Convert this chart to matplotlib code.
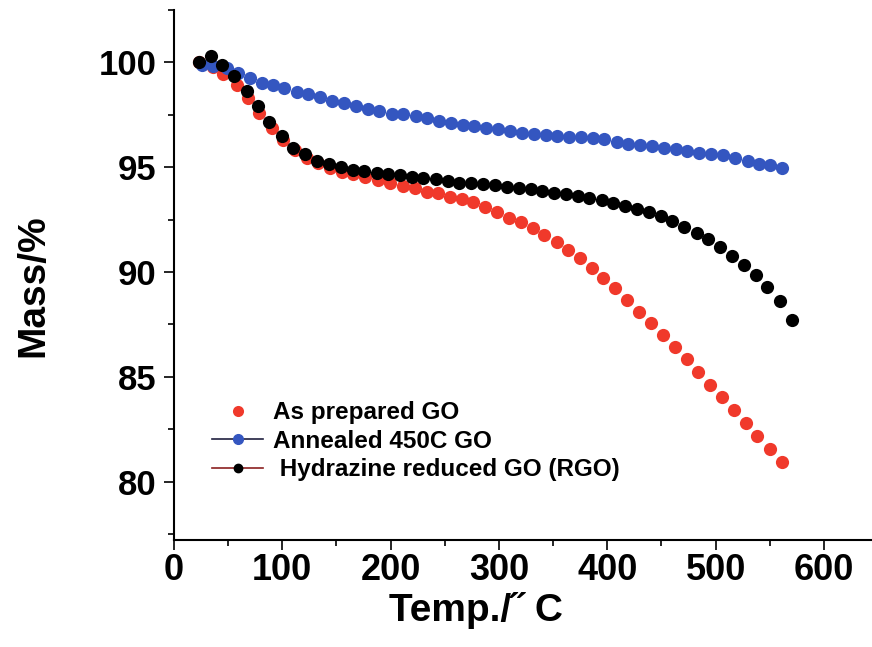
import matplotlib
matplotlib.use('Agg')
import matplotlib.pyplot as plt
from matplotlib.lines import Line2D
from matplotlib.ticker import MultipleLocator

plt.rcParams['font.family'] = ['Liberation Sans', 'DejaVu Sans']
plt.rcParams['font.weight'] = 'bold'

# As prepared GO
temp_go = [23.1, 36.0, 45.2, 58.2, 68.3, 78.5, 90.5, 100.6, 111.7, 122.8,
           132.9, 144.0, 155.1, 165.2, 176.3, 188.3, 199.4, 211.4, 222.5, 233.5,
           243.7, 254.8, 265.8, 276.0, 287.1, 298.2, 309.2, 320.3, 331.4, 341.5,
           353.5, 363.7, 374.8, 385.8, 396.0, 407.1, 418.2, 429.2, 440.3, 451.4,
           462.5, 473.6, 483.7, 494.8, 505.9, 516.9, 528.0, 538.2, 550.2, 561.2]
mass_go = [100.0, 99.76, 99.43, 98.9, 98.28, 97.57, 96.85, 96.28, 95.8, 95.42,
           95.18, 94.94, 94.75, 94.66, 94.51, 94.37, 94.23, 94.08, 93.99, 93.8,
           93.75, 93.56, 93.46, 93.32, 93.08, 92.84, 92.6, 92.37, 92.08, 91.75,
           91.41, 91.03, 90.65, 90.17, 89.69, 89.22, 88.64, 88.07, 87.55, 86.97,
           86.4, 85.83, 85.21, 84.59, 84.02, 83.4, 82.78, 82.16, 81.54, 80.92]

# Annealed 450C GO
temp_ann = [25.8, 36.0, 48.9, 59.1, 70.2, 81.2, 91.4, 101.5, 113.5, 123.7,
            134.8, 145.8, 156.9, 168.0, 179.1, 189.2, 201.2, 211.4, 223.4, 233.5,
            244.6, 255.7, 266.8, 276.9, 288.0, 299.1, 310.2, 321.2, 332.3, 343.4,
            353.5, 364.6, 375.7, 386.8, 396.9, 408.9, 419.1, 430.2, 441.2, 452.3,
            463.4, 473.6, 484.6, 495.7, 506.8, 517.9, 529.9, 540.0, 550.2, 561.2]
mass_ann = [99.88, 99.83, 99.74, 99.5, 99.26, 99.04, 98.9, 98.76, 98.61, 98.47,
            98.33, 98.14, 98.04, 97.9, 97.8, 97.66, 97.56, 97.54, 97.46, 97.37,
            97.22, 97.13, 97.03, 96.99, 96.89, 96.84, 96.75, 96.65, 96.6, 96.56,
            96.51, 96.44, 96.42, 96.38, 96.33, 96.22, 96.12, 96.07, 96.03, 95.93,
            95.89, 95.79, 95.7, 95.65, 95.6, 95.46, 95.31, 95.17, 95.12, 94.98]

# Hydrazine reduced GO (RGO)
temp_rgo = [23.1, 34.2, 44.3, 55.4, 67.4, 77.5, 87.7, 99.7, 109.8, 120.9,
            132.0, 143.1, 154.2, 165.2, 175.4, 187.4, 197.5, 208.6, 219.7, 229.9,
            241.9, 252.9, 263.1, 274.2, 285.2, 296.3, 307.4, 318.5, 329.5, 339.7,
            350.8, 361.8, 372.9, 383.1, 395.1, 405.2, 416.3, 427.4, 438.5, 449.6,
            459.7, 470.8, 482.8, 493.0, 504.1, 515.2, 526.2, 537.2, 547.4, 559.4,
            570.5]
mass_rgo = [100.0, 100.29, 99.86, 99.33, 98.66, 97.9, 97.14, 96.47, 95.94, 95.61,
            95.32, 95.13, 94.99, 94.89, 94.8, 94.7, 94.66, 94.61, 94.51, 94.47,
            94.42, 94.32, 94.27, 94.23, 94.18, 94.13, 94.06, 94.01, 93.94, 93.85,
            93.75, 93.73, 93.61, 93.51, 93.42, 93.27, 93.13, 92.99, 92.84, 92.65,
            92.41, 92.13, 91.84, 91.56, 91.17, 90.74, 90.31, 89.84, 89.27, 88.6,
            87.69]

labels = ['As prepared GO', 'Annealed 450C GO', ' Hydrazine reduced GO (RGO)']
red, blue, black = '#f0392b', '#3456c0', '#000000'

fig = plt.figure(figsize=(8.72, 6.47), dpi=100)
ax = fig.add_axes([0.1995, 0.165, 0.8005, 0.8195])

ax.plot(temp_go, mass_go, 'o', color=red, ms=9.5, mec='none')
ax.plot(temp_ann, mass_ann, 'o', color=blue, ms=9.5, mec='none')
ax.plot(temp_rgo, mass_rgo, 'o', color=black, ms=9.5, mec='none')

ax.set_xlim(0, 644.3)
ax.set_ylim(77.2, 102.5)
ax.xaxis.set_major_locator(MultipleLocator(100))
ax.xaxis.set_minor_locator(MultipleLocator(50))
ax.yaxis.set_major_locator(MultipleLocator(5))
ax.yaxis.set_minor_locator(MultipleLocator(2.5))

for s in ['top', 'right']:
    ax.spines[s].set_visible(False)
for s in ['left', 'bottom']:
    ax.spines[s].set_linewidth(1.5)

ax.tick_params(which='major', direction='out', length=7.5, width=1.2)
ax.tick_params(which='minor', direction='out', length=4, width=1.2)
ax.tick_params(axis='x', labelsize=26, pad=2)
ax.tick_params(axis='y', labelsize=25, pad=5)
for lab in ax.get_xticklabels() + ax.get_yticklabels():
    lab.set_fontweight('bold')

ax.set_xlabel('Temp./\u02dd C', fontsize=28, fontweight='bold')
ax.set_ylabel('Mass/%', fontsize=28, fontweight='bold')
ax.xaxis.set_label_coords(0.433, -0.098)
ax.yaxis.set_label_coords(-0.175, 0.48)

handles = [
    Line2D([], [], ls='none', marker='o', color=red, ms=8, mec='none'),
    Line2D([], [], ls='-', lw=1.2, color='#202040', marker='o', mfc=blue, mec=blue, ms=7),
    Line2D([], [], ls='-', lw=1.2, color='#8b2020', marker='o', mfc=black, mec=black, ms=6),
]
ax.legend(handles, labels, loc='upper left', bbox_to_anchor=(0.055, 0.262),
          frameon=False, prop={'size': 17.5, 'weight': 'bold'},
          handlelength=2.1, handletextpad=0.4, labelspacing=0.22, borderpad=0,
          borderaxespad=0)

fig.savefig('out.png', dpi=100)
